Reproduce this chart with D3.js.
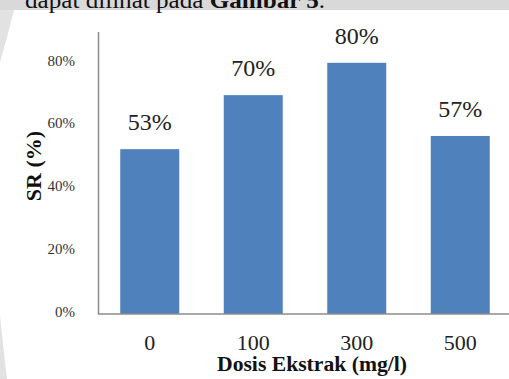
<!DOCTYPE html>
<html>
<head>
<meta charset="utf-8">
<script src="https://cdn.jsdelivr.net/npm/d3@7"></script>
<style>
  html, body { margin: 0; padding: 0; background: #fff; }
  svg { display: block; }
</style>
</head>
<body>
<script>
const categories = ["0", "100", "300", "500"];
const values = [0.525, 0.697, 0.80, 0.567];
const valueLabels = ["53%", "70%", "80%", "57%"];
const yTicks = [0, 0.2, 0.4, 0.6, 0.8];
const xTitle = "Dosis Ekstrak (mg/l)";
const yTitle = "SR (%)";

const W = 509, H = 379;
const svg = d3.select("body").append("svg").attr("width", W).attr("height", H);
const serif = "'Liberation Serif', 'Times New Roman', serif";

// background page fragments
svg.append("rect").attr("x", 0).attr("y", 0).attr("width", W).attr("height", 10).attr("fill", "#d9d9d9");
const headText = svg.append("text").attr("x", 25).attr("y", 8)
  .attr("font-family", serif).attr("font-size", 24).attr("fill", "#111")
  .attr("textLength", 300).attr("lengthAdjust", "spacingAndGlyphs");
headText.append("tspan").text("dapat dilihat pada ");
headText.append("tspan").attr("font-weight", "bold").text("Gambar 5");
headText.append("tspan").text(".");

svg.append("path").attr("d", "M0,10 L14,10 Q8,35 0,62 Z").attr("fill", "#e2e2e2");
svg.append("path").attr("d", "M0,315 Q3,345 7,379 L0,379 Z").attr("fill", "#e2e2e2");

const x0 = 98, yBase = 314;
const x = d3.scaleBand().domain(categories).range([x0, 512]).paddingInner(0.43).paddingOuter(0.215);
const y = d3.scaleLinear().domain([0, 0.9]).range([yBase, 31.4]);

// bars
svg.selectAll("rect.bar").data(values).enter().append("rect")
  .attr("class", "bar")
  .attr("x", (d, i) => x(categories[i]))
  .attr("y", d => y(d))
  .attr("width", x.bandwidth())
  .attr("height", d => yBase - y(d))
  .attr("fill", "#4f81bd");

// axes
const yAxis = d3.axisLeft(y).tickValues(yTicks).tickFormat(d3.format(".0%")).tickSize(0).tickPadding(23);
const gy = svg.append("g").attr("transform", `translate(${x0},0)`).call(yAxis);
gy.select(".domain").attr("stroke", "#8c8c8c").attr("stroke-width", 1.5);
gy.selectAll("text").attr("font-family", serif).attr("font-size", 15).attr("fill", "#333").attr("dy", "0.15em");

const xAxis = d3.axisBottom(x).tickSize(0).tickPadding(20);
const gx = svg.append("g").attr("transform", `translate(0,${yBase})`).call(xAxis);
gx.select(".domain").attr("stroke", "#8c8c8c").attr("stroke-width", 1.5).attr("d", `M${x0},0H${W}`);
gx.selectAll("text").attr("font-family", serif).attr("font-size", 22).attr("fill", "#222");

// value labels
svg.selectAll("text.vl").data(values).enter().append("text")
  .attr("class", "vl")
  .attr("x", (d, i) => x(categories[i]) + x.bandwidth() / 2)
  .attr("y", d => y(d) - 19)
  .attr("text-anchor", "middle")
  .attr("font-family", serif).attr("font-size", 24).attr("fill", "#222")
  .text((d, i) => valueLabels[i]);

// titles
svg.append("text").attr("x", 312).attr("y", 371).attr("text-anchor", "middle")
  .attr("font-family", serif).attr("font-size", 20).attr("font-weight", "bold").attr("fill", "#111")
  .attr("textLength", 190).attr("lengthAdjust", "spacingAndGlyphs")
  .text(xTitle);
svg.append("text").attr("transform", "translate(41,166) rotate(-90)").attr("text-anchor", "middle")
  .attr("font-family", serif).attr("font-size", 22).attr("font-weight", "bold").attr("fill", "#111")
  .text(yTitle);
</script>
</body>
</html>
